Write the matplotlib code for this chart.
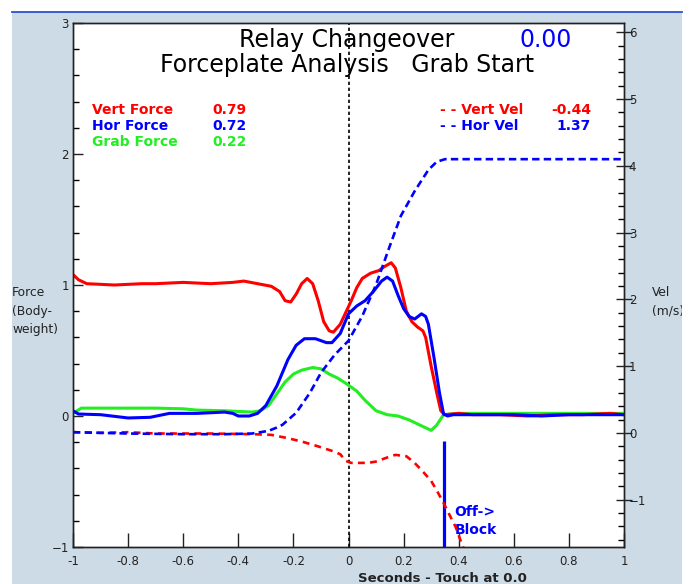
import matplotlib.pyplot as plt
from matplotlib.patches import Rectangle
from matplotlib.lines import Line2D
from matplotlib.ticker import MultipleLocator

# ---- data ------------------------------------------------------------
t_vf = [-1.00, -0.98, -0.95, -0.85, -0.75, -0.70, -0.60, -0.50, -0.42, -0.38,
        -0.33, -0.28, -0.25, -0.23, -0.21, -0.19, -0.17, -0.15, -0.13, -0.11,
        -0.09, -0.07, -0.055, -0.03, -0.01, 0.01, 0.03, 0.05, 0.08, 0.11,
        0.13, 0.155, 0.17, 0.19, 0.21, 0.23, 0.25, 0.27, 0.28, 0.30,
        0.32, 0.335, 0.35, 0.40, 0.45, 0.55, 0.65, 0.75, 0.85, 0.95, 1.00]
vert_force = [1.08, 1.04, 1.01, 1.00, 1.01, 1.01, 1.02, 1.01, 1.02, 1.03,
              1.01, 0.99, 0.95, 0.88, 0.87, 0.93, 1.01, 1.05, 1.01, 0.88,
              0.72, 0.65, 0.64, 0.70, 0.79, 0.88, 0.98, 1.05, 1.09, 1.11,
              1.14, 1.17, 1.13, 0.98, 0.80, 0.72, 0.68, 0.65, 0.60, 0.38,
              0.18, 0.04, 0.01, 0.02, 0.01, 0.01, 0.00, 0.01, 0.01, 0.02, 0.01]

t_hf = [-1.00, -0.98, -0.90, -0.80, -0.72, -0.65, -0.55, -0.45, -0.42, -0.40,
        -0.36, -0.33, -0.30, -0.26, -0.22, -0.19, -0.16, -0.12, -0.08, -0.06,
        -0.03, 0.00, 0.03, 0.06, 0.09, 0.12, 0.14, 0.16, 0.18, 0.20,
        0.22, 0.24, 0.265, 0.28, 0.29, 0.31, 0.33, 0.345, 0.36, 0.38,
        0.50, 0.60, 0.70, 0.80, 0.90, 1.00]
hor_force = [0.04, 0.015, 0.01, -0.015, -0.01, 0.02, 0.02, 0.03, 0.02, 0.00,
             0.00, 0.02, 0.08, 0.23, 0.43, 0.54, 0.59, 0.59, 0.56, 0.56,
             0.63, 0.78, 0.84, 0.88, 0.95, 1.03, 1.06, 1.03, 0.92, 0.82,
             0.76, 0.74, 0.78, 0.76, 0.70, 0.45, 0.18, 0.015, 0.00, 0.01,
             0.01, 0.01, 0.00, 0.01, 0.01, 0.01]

t_gf = [-1.00, -0.97, -0.90, -0.80, -0.70, -0.60, -0.55, -0.45, -0.40, -0.35,
        -0.32, -0.29, -0.26, -0.23, -0.20, -0.17, -0.13, -0.10, -0.07, -0.04,
        -0.01, 0.01, 0.03, 0.06, 0.10, 0.14, 0.18, 0.22, 0.26, 0.30,
        0.32, 0.345, 0.40, 0.60, 0.80, 1.00]
grab_force = [0.02, 0.06, 0.06, 0.06, 0.06, 0.055, 0.045, 0.04, 0.035, 0.03,
              0.04, 0.08, 0.17, 0.26, 0.32, 0.35, 0.37, 0.36, 0.32, 0.29,
              0.25, 0.22, 0.19, 0.12, 0.04, 0.01, 0.00, -0.03, -0.07, -0.11,
              -0.07, 0.01, 0.02, 0.02, 0.02, 0.02]

t_vv = [-1.00, -0.90, -0.80, -0.70, -0.50, -0.35, -0.28, -0.22, -0.17, -0.12,
        -0.06, -0.03, -0.01, 0.01, 0.07, 0.10, 0.14, 0.17, 0.21, 0.24,
        0.27, 0.30, 0.32, 0.345, 0.363, 0.389, 0.41, 0.43]
vert_vel = [0.01, 0.00, 0.01, -0.01, -0.01, -0.02, -0.03, -0.08, -0.13, -0.19,
            -0.27, -0.32, -0.42, -0.45, -0.45, -0.43, -0.37, -0.33, -0.35, -0.45,
            -0.58, -0.72, -0.86, -1.05, -1.20, -1.41, -1.65, -1.85]

t_hv = [-1.00, -0.80, -0.60, -0.45, -0.35, -0.29, -0.26, -0.24, -0.19, -0.14,
        -0.10, -0.05, 0.00, 0.05, 0.10, 0.15, 0.19, 0.24, 0.29, 0.32,
        0.35, 0.60, 0.80, 1.00]
hor_vel = [0.01, -0.01, -0.02, -0.02, -0.01, 0.03, 0.08, 0.12, 0.30, 0.60,
           0.90, 1.17, 1.38, 1.75, 2.22, 2.80, 3.25, 3.62, 3.94, 4.06,
           4.10, 4.10, 4.10, 4.10]

cursor_time = 0.0
off_block_time = 0.345
off_block_top = -0.19

force_labels = ['Vert Force', 'Hor Force', 'Grab Force']
force_values = [0.79, 0.72, 0.22]
vel_labels = ['- - Vert Vel', '- - Hor Vel']
vel_values = [-0.44, 1.37]
changeover = 0.00

RED, BLUE, GREEN = '#ff0000', '#0000ff', '#22ee22'
W, H = 689, 584


def fx(px):
    return px / W


def fy(py):
    return 1 - py / H


fig = plt.figure(figsize=(W / 100, H / 100), dpi=100, facecolor='white')
panel = Rectangle((fx(12), 0), fx(682) - fx(12), fy(12), transform=fig.transFigure,
                  facecolor='#cddbe6', edgecolor='none', zorder=-10)
fig.patches.append(panel)
fig.add_artist(Line2D([fx(12), fx(682)], [fy(12), fy(12)], color='#2f4fd0',
                      lw=1.3, transform=fig.transFigure))

ax = fig.add_axes([fx(73), fy(547), fx(624) - fx(73), (547 - 23) / H])
ax2 = ax.twinx()

ax.plot(t_vf, vert_force, color=RED, lw=2.2, zorder=4)
ax.plot(t_hf, hor_force, color=BLUE, lw=2.2, zorder=5)
ax.plot(t_gf, grab_force, color=GREEN, lw=2.2, zorder=3)
ax.axvline(cursor_time, color='black', lw=1.2, ls=(0, (2, 1.6)), zorder=2)
ax.vlines(off_block_time, -1, off_block_top, color=BLUE, lw=2.3, zorder=6)

ax2.plot(t_vv, vert_vel, color=RED, lw=1.9, ls=(0, (2.6, 2.0)))
ax2.plot(t_hv, hor_vel, color=BLUE, lw=1.9, ls=(0, (2.8, 1.6)))

ax.set_xlim(-1, 1)
ax.set_ylim(-1, 3)
ax2.set_ylim(-1.71, 6.14)

ax.xaxis.set_major_locator(MultipleLocator(0.2))
ax.yaxis.set_major_locator(MultipleLocator(1))
ax.yaxis.set_minor_locator(MultipleLocator(0.2))
ax2.yaxis.set_major_locator(MultipleLocator(1))
ax2.yaxis.set_minor_locator(MultipleLocator(0.2))
ax.set_xticklabels(['%g' % v if abs(v) > 1e-9 else '0' for v in ax.get_xticks()])

ax.tick_params(axis='x', which='major', direction='in', length=10, width=1,
               labelsize=8.5, pad=6, colors='#222222')
ax.tick_params(axis='y', which='major', direction='in', length=7, width=1,
               labelsize=8.5, pad=3, colors='#222222')
ax.tick_params(axis='y', which='minor', direction='in', length=4, width=1)
ax2.tick_params(axis='y', which='major', direction='inout', length=11, width=1,
                labelsize=8.5, pad=-2, colors='#222222')
ax2.tick_params(axis='y', which='minor', direction='in', length=4, width=1)
for a in (ax, ax2):
    for s in a.spines.values():
        s.set_linewidth(1)
        s.set_color('#222222')

# titles
fig.text(fx(347), fy(40), 'Relay Changeover', fontsize=17, ha='center', va='center')
fig.text(fx(546), fy(40), '%.2f' % changeover, fontsize=17, color=BLUE,
         ha='center', va='center')
fig.text(fx(347), fy(65), 'Forceplate Analysis   Grab Start', fontsize=17,
         ha='center', va='center')

# value read-outs
for i, (lab, val, col) in enumerate(zip(force_labels, force_values, [RED, BLUE, GREEN])):
    y = 110 + 16 * i
    fig.text(fx(92), fy(y), lab, color=col, fontsize=10, fontweight='bold', va='center')
    fig.text(fx(212), fy(y), '%.2f' % val, color=col, fontsize=10,
             fontweight='bold', va='center')
for i, (lab, val, col) in enumerate(zip(vel_labels, vel_values, [RED, BLUE])):
    y = 110 + 16 * i
    fig.text(fx(440), fy(y), lab, color=col, fontsize=10, fontweight='bold', va='center')
    fig.text(fx(591), fy(y), '%.2f' % val, color=col, fontsize=10,
             fontweight='bold', va='center', ha='right')

ax.text(off_block_time + 0.04, -0.73, 'Off->', color=BLUE, fontsize=10,
        fontweight='bold', va='center')
ax.text(off_block_time + 0.04, -0.87, 'Block', color=BLUE, fontsize=10,
        fontweight='bold', va='center')

# axis titles
fig.text(fx(12), fy(311), 'Force\n(Body-\nweight)', fontsize=8.8, va='center',
         ha='left', linespacing=1.5, color='#222222')
vel_lab = fig.text(fx(652), fy(302), 'Vel\n(m/s)', fontsize=8.8, va='center',
                   ha='left', linespacing=1.5, color='#222222')
vel_lab.set_clip_path(panel)
fig.text(fx(442), fy(578), 'Seconds - Touch at 0.0', fontsize=9.5,
         fontweight='bold', ha='center', va='center', color='#222222')

fig.savefig('out.png', dpi=100, facecolor=fig.get_facecolor())
